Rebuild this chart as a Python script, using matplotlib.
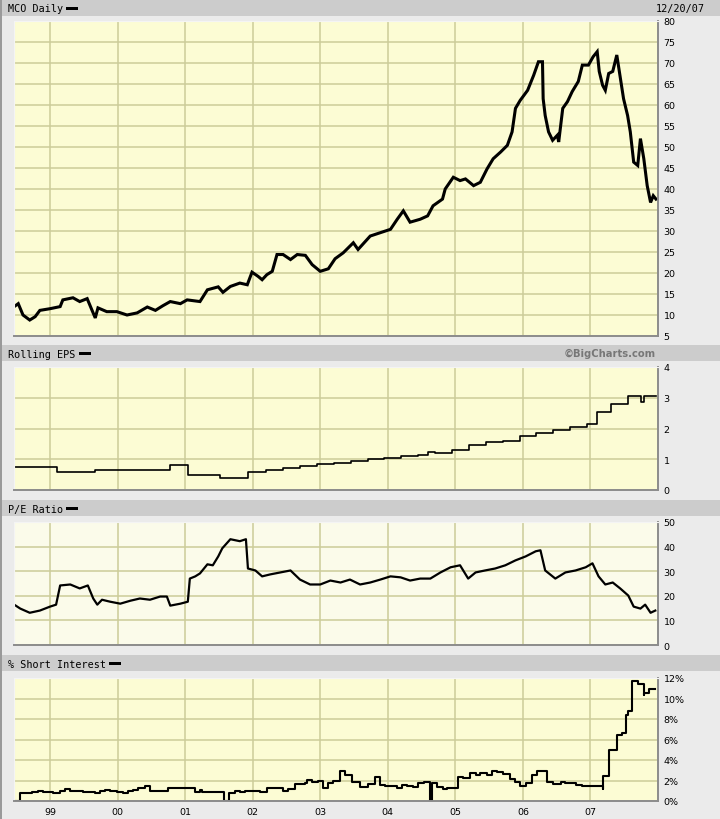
import matplotlib
matplotlib.use("Agg")
import matplotlib.pyplot as plt
from matplotlib.patches import Rectangle

W, H = 720, 820

# ---- data (decimal years) ----
price_t = [1998.47, 1998.53, 1998.60, 1998.70, 1998.78, 1998.85, 1999.00, 1999.15, 1999.19, 1999.34,
           1999.44, 1999.55, 1999.62, 1999.67, 1999.71, 1999.84, 1999.99, 2000.14, 2000.29, 2000.44,
           2000.56, 2000.67, 2000.78, 2000.93, 2001.03, 2001.22, 2001.33, 2001.49, 2001.56, 2001.67,
           2001.81, 2001.92, 2001.99, 2002.08, 2002.14, 2002.21, 2002.29, 2002.36, 2002.45, 2002.56,
           2002.66, 2002.78, 2002.88, 2003.00, 2003.12, 2003.22, 2003.34, 2003.49, 2003.56, 2003.74,
           2004.04, 2004.14, 2004.23, 2004.33, 2004.48, 2004.59, 2004.67, 2004.81, 2004.85, 2004.97,
           2005.07, 2005.15, 2005.27, 2005.37, 2005.47, 2005.56, 2005.67, 2005.77, 2005.84, 2005.89,
           2005.96, 2006.07, 2006.16, 2006.23, 2006.29, 2006.30, 2006.33, 2006.38, 2006.44, 2006.51,
           2006.53, 2006.59, 2006.66, 2006.73, 2006.82, 2006.88, 2006.97, 2007.04, 2007.10, 2007.13,
           2007.18, 2007.22, 2007.27, 2007.33, 2007.39, 2007.44, 2007.49, 2007.55, 2007.59, 2007.64,
           2007.70, 2007.74, 2007.79, 2007.84, 2007.89, 2007.93, 2007.97]
price = [12.0, 12.7, 10.0, 8.8, 9.6, 11.1, 11.5, 12.0, 13.6, 14.1,
         13.2, 13.9, 11.2, 9.3, 11.7, 10.8, 10.8, 10.0, 10.5, 11.9,
         11.1, 12.2, 13.2, 12.7, 13.6, 13.2, 16.0, 16.7, 15.4, 16.8,
         17.6, 17.2, 20.2, 19.2, 18.4, 19.6, 20.4, 24.4, 24.4, 23.2,
         24.4, 24.2, 22.0, 20.4, 21.0, 23.4, 24.8, 27.2, 25.6, 28.8,
         30.4, 32.8, 34.8, 32.1, 32.8, 33.6, 36.0, 37.6, 40.0, 42.8,
         42.0, 42.4, 40.8, 41.6, 44.8, 47.2, 48.8, 50.4, 53.6, 59.2,
         61.1, 63.5, 67.1, 70.3, 70.3, 61.5, 57.5, 53.6, 51.6, 52.8,
         51.2, 59.2, 60.8, 63.2, 65.6, 69.5, 69.5, 71.5, 72.7, 68.0,
         64.7, 63.5, 67.5, 68.0, 71.9, 66.7, 61.5, 57.5, 53.6, 46.4,
         45.6, 52.0, 47.2, 40.8, 36.8, 38.4, 37.6]

eps_t = [1998.47, 1999.10, 1999.67, 2000.78, 2001.04, 2001.52, 2001.93, 2002.20, 2002.45, 2002.70,
         2002.95, 2003.20, 2003.45, 2003.70, 2003.95, 2004.20, 2004.45, 2004.60, 2004.70, 2004.95,
         2005.20, 2005.45, 2005.70, 2005.95, 2006.20, 2006.45, 2006.70, 2006.95, 2007.10, 2007.30,
         2007.55, 2007.75, 2007.80, 2007.97]
eps = [0.75, 0.60, 0.65, 0.80, 0.50, 0.40, 0.60, 0.65, 0.72, 0.78,
       0.83, 0.88, 0.95, 1.00, 1.05, 1.10, 1.15, 1.25, 1.20, 1.30,
       1.45, 1.55, 1.60, 1.75, 1.85, 1.95, 2.05, 2.15, 2.55, 2.80,
       3.05, 2.85, 3.05, 3.05]

pe_t = [1998.47, 1998.56, 1998.70, 1998.85, 1999.00, 1999.09, 1999.15, 1999.30, 1999.44, 1999.56,
        1999.64, 1999.70, 1999.77, 1999.89, 2000.04, 2000.19, 2000.33, 2000.48, 2000.63, 2000.73,
        2000.78, 2000.93, 2001.04, 2001.07, 2001.15, 2001.22, 2001.33, 2001.41, 2001.49, 2001.55,
        2001.67, 2001.81, 2001.90, 2001.93, 2002.04, 2002.14, 2002.26, 2002.41, 2002.56, 2002.70,
        2002.85, 2003.00, 2003.15, 2003.30, 2003.44, 2003.59, 2003.74, 2003.89, 2004.04, 2004.19,
        2004.33, 2004.48, 2004.63, 2004.78, 2004.93, 2005.07, 2005.19, 2005.30, 2005.44, 2005.59,
        2005.74, 2005.89, 2006.04, 2006.19, 2006.26, 2006.33, 2006.48, 2006.63, 2006.78, 2006.93,
        2007.03, 2007.12, 2007.22, 2007.33, 2007.44, 2007.56, 2007.64, 2007.74, 2007.81, 2007.89,
        2007.96]
pe = [16.4, 14.8, 13.1, 14.0, 15.6, 16.4, 24.2, 24.6, 23.0, 24.2,
      18.9, 16.4, 18.4, 17.6, 16.8, 18.0, 18.9, 18.4, 19.7, 19.7,
      16.0, 16.8, 17.6, 27.0, 27.9, 29.1, 32.8, 32.4, 36.0, 39.3,
      43.0, 42.2, 43.0, 31.1, 30.3, 27.9, 28.7, 29.5, 30.3, 26.6,
      24.6, 24.6, 26.2, 25.4, 26.6, 24.6, 25.4, 26.6, 27.9, 27.5,
      26.2, 27.0, 27.0, 29.5, 31.6, 32.4, 27.0, 29.5, 30.3, 31.1,
      32.4, 34.4, 36.0, 38.1, 38.5, 30.3, 27.0, 29.5, 30.3, 31.6,
      33.2, 27.9, 24.6, 25.4, 23.0, 20.1, 15.6, 14.8, 16.4, 13.1,
      14.0]

si_t = [1998.48, 1998.56, 1998.73, 1998.82, 1998.90, 1999.04, 1999.15, 1999.22, 1999.30, 1999.40,
        1999.49, 1999.67, 1999.74, 1999.81, 1999.89, 1999.99, 2000.08, 2000.16, 2000.23, 2000.30,
        2000.41, 2000.48, 2000.59, 2000.75, 2001.15, 2001.22, 2001.25, 2001.33, 2001.58, 2001.65,
        2001.74, 2001.81, 2001.89, 2002.11, 2002.21, 2002.45, 2002.53, 2002.63, 2002.78, 2002.81,
        2002.88, 2002.96, 2003.04, 2003.12, 2003.19, 2003.30, 2003.37, 2003.47, 2003.59, 2003.71,
        2003.81, 2003.89, 2003.96, 2004.14, 2004.21, 2004.29, 2004.38, 2004.45, 2004.53, 2004.63,
        2004.66, 2004.73, 2004.81, 2004.88, 2005.04, 2005.12, 2005.22, 2005.30, 2005.37, 2005.47,
        2005.55, 2005.62, 2005.71, 2005.81, 2005.89, 2005.96, 2006.04, 2006.14, 2006.21, 2006.36,
        2006.45, 2006.56, 2006.63, 2006.78, 2006.88, 2007.18, 2007.19, 2007.28, 2007.39, 2007.46,
        2007.53, 2007.56, 2007.62, 2007.70, 2007.79, 2007.80, 2007.87, 2007.96]
si = [0.0, 0.75, 0.85, 1.0, 0.9, 0.75, 1.0, 1.2, 0.95, 1.0,
      0.9, 0.75, 0.95, 1.1, 0.95, 0.85, 0.75, 0.95, 1.1, 1.25,
      1.45, 0.95, 1.0, 1.25, 0.85, 1.1, 0.9, 0.85, 0.0, 0.75,
      1.0, 0.9, 1.0, 0.9, 1.25, 1.0, 1.2, 1.65, 1.8, 2.05,
      1.9, 1.95, 1.3, 1.75, 1.95, 2.95, 2.55, 1.9, 1.4, 1.65,
      2.3, 1.6, 1.5, 1.25, 1.6, 1.45, 1.4, 1.75, 1.9, 0.0,
      1.75, 1.4, 1.2, 1.3, 2.3, 2.2, 2.7, 2.5, 2.7, 2.55,
      2.95, 2.8, 2.6, 2.1, 1.85, 1.5, 1.8, 2.5, 2.95, 1.85,
      1.7, 1.85, 1.75, 1.6, 1.45, 1.2, 2.45, 4.95, 6.45, 6.6,
      8.4, 8.75, 11.75, 11.4, 10.3, 10.55, 10.95, 10.95]

years = [1999, 2000, 2001, 2002, 2003, 2004, 2005, 2006, 2007]
year_labels = ["99", "00", "01", "02", "03", "04", "05", "06", "07"]

BG = "#ebebeb"
BAR = "#cccccc"
PLOT_BG = "#fcfcd4"
PE_BG = "#fbfbea"
GRID = "#cccc99"
XLIM = (1998.467, 2008.0)

fig = plt.figure(figsize=(W / 100, H / 100), dpi=100, facecolor=BG)


def fx(x):
    return x / W


def fy(y):
    return 1 - y / H


def header(y0, y1, title, bar_x0):
    fig.patches.append(Rectangle((fx(2), fy(y1)), fx(718), (y1 - y0) / H,
                                 transform=fig.transFigure, facecolor=BAR, edgecolor="none", zorder=0))
    fig.text(fx(8), fy((y0 + y1) / 2 + 0.5), title, family="DejaVu Sans Mono", fontsize=7.3,
             va="center", ha="left", color="black")
    fig.patches.append(Rectangle((fx(bar_x0), fy((y0 + y1) / 2 + 1.5)), fx(12), 3 / H,
                                 transform=fig.transFigure, facecolor="black", edgecolor="none", zorder=1))


def panel(top, bottom, ylim, ticks, labels, bg=PLOT_BG):
    ax = fig.add_axes([fx(14), fy(bottom), fx(644), (bottom - top) / H])
    ax.set_facecolor(bg)
    ax.set_xlim(*XLIM)
    ax.set_ylim(*ylim)
    ax.set_xticks(years)
    ax.set_yticks(ticks)
    ax.grid(True, color=GRID, linewidth=1.1)
    ax.set_axisbelow(True)
    ax.yaxis.tick_right()
    ax.set_yticklabels(labels)
    ax.tick_params(axis="y", length=0, pad=4, labelsize=6.8)
    ax.tick_params(axis="x", length=0, labelbottom=False)
    for s in ["left", "top"]:
        ax.spines[s].set_color("#f4f4f4")
    for s in ["right", "bottom"]:
        ax.spines[s].set_color("#8c8c8c")
        ax.spines[s].set_linewidth(1.4)
    return ax


# left border
fig.patches.append(Rectangle((0, 0), fx(1.5), 1, transform=fig.transFigure,
                             facecolor="#9a9a9a", edgecolor="none"))

header(1, 17, "MCO Daily", 66)
fig.text(fx(705), fy(9), "12/20/07", family="DejaVu Sans Mono", fontsize=7.3, va="center", ha="right")
header(346, 362, "Rolling EPS", 79)
fig.text(fx(610), fy(354), "\u00a9BigCharts.com", fontsize=7.2, fontweight="bold", color="#777777",
         va="center", ha="center")
header(501, 517, "P/E Ratio", 66)
header(656, 672, "% Short Interest", 109)

ax1 = panel(22, 337, (5, 80), list(range(5, 81, 5)), [str(v) for v in range(5, 81, 5)])
ax1.plot(price_t, price, color="black", linewidth=2.2, solid_joinstyle="miter")

ax2 = panel(368, 491, (0, 4), [0, 1, 2, 3, 4], ["0", "1", "2", "3", "4"])
ax2.plot(eps_t, eps, color="black", linewidth=1.2, drawstyle="steps-post")

ax3 = panel(523, 646, (0, 50), [0, 10, 20, 30, 40, 50], ["0", "10", "20", "30", "40", "50"], bg=PE_BG)
ax3.plot(pe_t, pe, color="black", linewidth=1.6)

ax4 = panel(679, 802, (0, 12), [0, 2, 4, 6, 8, 10, 12], [f"{v}%" for v in range(0, 13, 2)])
ax4.plot(si_t, si, color="black", linewidth=1.5, drawstyle="steps-post")
ax4.tick_params(axis="x", labelbottom=True, labelsize=6.8, pad=4)
ax4.set_xticklabels(year_labels)

fig.savefig("out.png", dpi=100, facecolor=BG)
